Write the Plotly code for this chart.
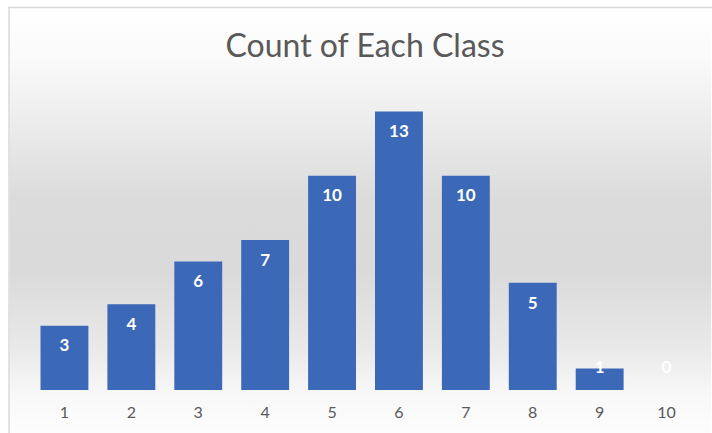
import base64
import plotly.graph_objects as go

categories = ["1", "2", "3", "4", "5", "6", "7", "8", "9", "10"]
counts = [3, 4, 6, 7, 10, 13, 10, 5, 1, 0]
title_text = "Count of Each Class"

W, H = 712, 433
L, R, T, B = 30.5, 11.5, 90, 43
pw, ph = W - L - R, H - T - B

def px_to_paper_x(px):
    return (px - L) / pw

def px_to_paper_y(py):
    return (H - B - py) / ph

# background gradient as an SVG image
svg = (
    '<svg xmlns="http://www.w3.org/2000/svg" width="100" height="100" preserveAspectRatio="none">'
    '<defs><linearGradient id="g" x1="0" y1="0" x2="0" y2="1">'
    '<stop offset="0" stop-color="#ffffff"/>'
    '<stop offset="0.12" stop-color="#fafafa"/>'
    '<stop offset="0.25" stop-color="#eeeeee"/>'
    '<stop offset="0.45" stop-color="#dbdbdb"/>'
    '<stop offset="0.62" stop-color="#dadada"/>'
    '<stop offset="0.80" stop-color="#e9e9e9"/>'
    '<stop offset="0.91" stop-color="#f8f8f8"/>'
    '<stop offset="1" stop-color="#fdfdfd"/>'
    '</linearGradient></defs>'
    '<rect width="100" height="100" fill="url(#g)"/></svg>'
)
svg_uri = "data:image/svg+xml;base64," + base64.b64encode(svg.encode()).decode()

label_y = [max(v - 1, 1) for v in counts]

fig = go.Figure()
fig.add_trace(go.Bar(
    x=categories, y=counts,
    marker=dict(color="#3c68b8", line=dict(width=0)),
    hoverinfo="x+y",
))
fig.add_trace(go.Scatter(
    x=categories, y=label_y, mode="text",
    text=[str(v) for v in counts],
    textposition="middle center",
    textfont=dict(family="Lato", size=17, color="white", weight="bold"),
    hoverinfo="skip",
))

fig.update_layout(
    width=W, height=H,
    margin=dict(l=L, r=R, t=T, b=B),
    paper_bgcolor="white",
    plot_bgcolor="rgba(0,0,0,0)",
    showlegend=False,
    bargap=0.284,
    title=dict(
        text=title_text,
        x=px_to_paper_x(365), xref="paper", xanchor="center",
        y=(H - 46) / H, yref="container", yanchor="middle",
        font=dict(family="Lato", size=32, color="#595959"),
    ),
    xaxis=dict(
        type="category", range=[-0.5, 9.5],
        showline=False, showgrid=False, zeroline=False,
        ticks="outside", ticklen=8, tickcolor="rgba(0,0,0,0)",
        tickfont=dict(family="Lato", size=16, color="#595959"),
    ),
    yaxis=dict(
        range=[0, 14], visible=False, showgrid=False, zeroline=False,
    ),
    images=[dict(
        source=svg_uri, xref="paper", yref="paper",
        x=px_to_paper_x(9), y=px_to_paper_y(8),
        sizex=(W - 9) / pw, sizey=(H - 8) / ph,
        xanchor="left", yanchor="top", sizing="stretch", layer="below",
    )],
    shapes=[dict(
        type="rect", xref="paper", yref="paper",
        x0=px_to_paper_x(8.5), x1=px_to_paper_x(W + 5),
        y0=px_to_paper_y(H + 5), y1=px_to_paper_y(7.5),
        line=dict(color="#d9d9d9", width=1.5), fillcolor="rgba(0,0,0,0)",
        layer="below",
    )],
)

fig.write_html("out.html")
